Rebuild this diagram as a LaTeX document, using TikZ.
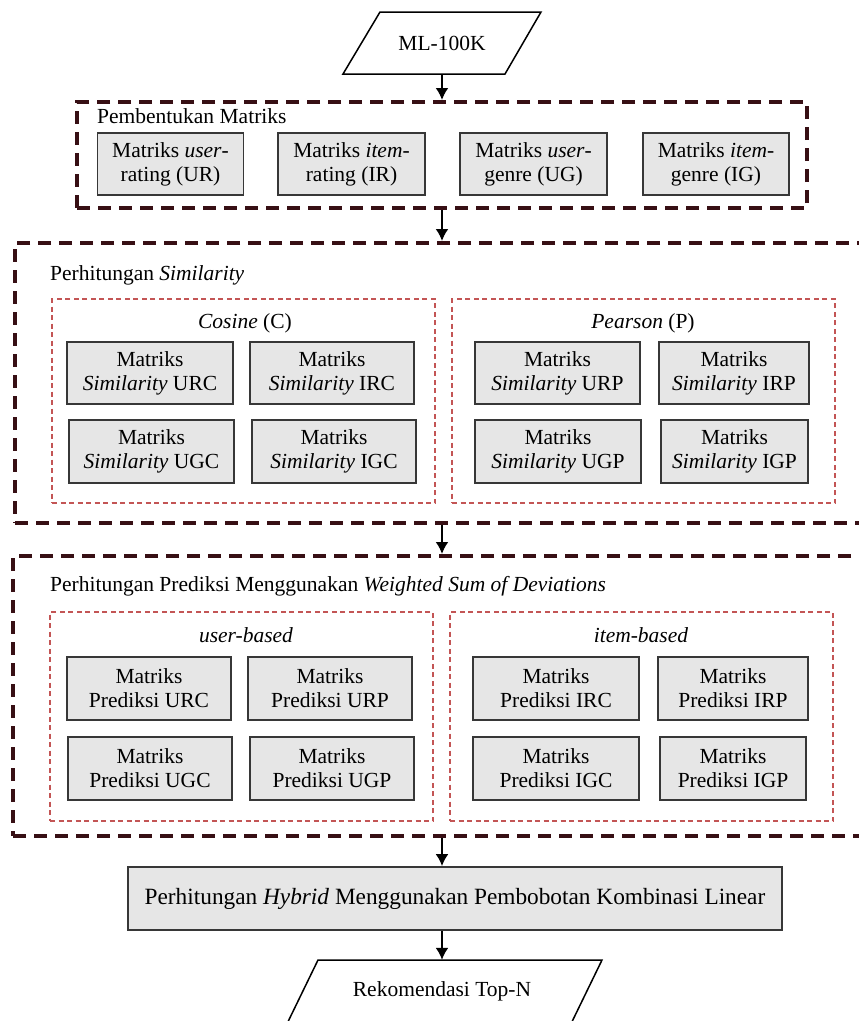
\documentclass[tikz,border=0pt]{standalone}
\usepackage{fontspec}
\setmainfont{Liberation Serif}
\usetikzlibrary{arrows.meta,calc}
\definecolor{bigdash}{RGB}{55,15,20}
\definecolor{reddot}{RGB}{195,85,85}
\definecolor{boxfill}{RGB}{230,230,230}
\definecolor{boxline}{RGB}{55,55,55}
\begin{document}
\begin{tikzpicture}[x=1pt,y=-1pt,
  every node/.style={font=\fontsize{21.5}{24}\selectfont},
  mbox/.style={draw=boxline, line width=1.8pt, fill=boxfill, align=center, inner sep=0pt, minimum height=62},
  bigbox/.style={draw=bigdash, line width=4pt, dash pattern=on 13pt off 8pt, inner sep=0pt},
  subbox/.style={draw=reddot, line width=1.3pt, dash pattern=on 5pt off 3.5pt, inner sep=0pt},
  flow/.style={draw=black, line width=2pt, -{Latex[length=12pt,width=13pt]}},
  title/.style={anchor=base west, inner sep=0pt},
  subtitle/.style={anchor=base, inner sep=0pt},
  para/.style={draw=black, line width=1.5pt, line join=miter},
]
\useasboundingbox (0,0) rectangle (859,1021);
\fill[white] (0,0) rectangle (859,1021);

% input
\draw[para] (380,12) -- (541,12) -- (505,74) -- (343,74) -- cycle;
\node[inner sep=0pt, minimum height=62] (ml) at (442,43) {ML-100K};

% stage 1
\node[bigbox, minimum width=730, minimum height=106] (b1) at (442,155) {};
\node[title] (t1) at (97,123) {Pembentukan Matriks};
\node[mbox, minimum width=146] (ur) at (170.5,164) {Matriks \textit{user}-\\rating (UR)};
\node[mbox, minimum width=147] (ir) at (351.5,164) {Matriks \textit{item}-\\rating (IR)};
\node[mbox, minimum width=147] (ug) at (533.5,164) {Matriks \textit{user}-\\genre (UG)};
\node[mbox, minimum width=146] (ig) at (716,164) {Matriks \textit{item}-\\genre (IG)};

% stage 2
\node[bigbox, minimum width=865, minimum height=280] (b2) at (447.5,383) {};
\node[title] (t2) at (50,280) {Perhitungan \textit{Similarity}};
\node[subbox, minimum width=383, minimum height=204] (cos) at (243.5,401) {};
\node[subbox, minimum width=383, minimum height=204] (pea) at (643.5,401) {};
\node[subtitle] (tc) at (245,328) {\textit{Cosine} (C)};
\node[subtitle] (tp) at (643,328) {\textit{Pearson} (P)};
\node[mbox, minimum width=166] (surc) at (150,373) {Matriks\\\textit{Similarity} URC};
\node[mbox, minimum width=164] (sirc) at (332,373) {Matriks\\\textit{Similarity} IRC};
\node[mbox, minimum width=165, minimum height=63] (sugc) at (151.5,451.5) {Matriks\\\textit{Similarity} UGC};
\node[mbox, minimum width=164, minimum height=63] (sigc) at (334,451.5) {Matriks\\\textit{Similarity} IGC};
\node[mbox, minimum width=165] (surp) at (557.5,373) {Matriks\\\textit{Similarity} URP};
\node[mbox, minimum width=150] (sirp) at (734,373) {Matriks\\\textit{Similarity} IRP};
\node[mbox, minimum width=166, minimum height=63] (sugp) at (558,451.5) {Matriks\\\textit{Similarity} UGP};
\node[mbox, minimum width=147, minimum height=63] (sigp) at (734.5,451.5) {Matriks\\\textit{Similarity} IGP};

% stage 3
\node[bigbox, minimum width=867, minimum height=280] (b3) at (446.5,696) {};
\node[title] (t3) at (50,591) {Perhitungan Prediksi Menggunakan \textit{Weighted Sum of Deviations}};
\node[subbox, minimum width=383, minimum height=209] (ub) at (241.5,716.5) {};
\node[subbox, minimum width=383, minimum height=209] (ib) at (641.5,716.5) {};
\node[subtitle] (tu) at (246,642) {\textit{user-based}};
\node[subtitle] (ti) at (641,642) {\textit{item-based}};
\node[mbox, minimum width=164, minimum height=63] (purc) at (149,688.5) {Matriks\\Prediksi URC};
\node[mbox, minimum width=164, minimum height=63] (purp) at (330,688.5) {Matriks\\Prediksi URP};
\node[mbox, minimum width=164, minimum height=63] (pugc) at (150,768.5) {Matriks\\Prediksi UGC};
\node[mbox, minimum width=164, minimum height=63] (pugp) at (332,768.5) {Matriks\\Prediksi UGP};
\node[mbox, minimum width=166, minimum height=63] (pirc) at (556,688.5) {Matriks\\Prediksi IRC};
\node[mbox, minimum width=150, minimum height=63] (pirp) at (733,688.5) {Matriks\\Prediksi IRP};
\node[mbox, minimum width=166, minimum height=63] (pigc) at (556,768.5) {Matriks\\Prediksi IGC};
\node[mbox, minimum width=146, minimum height=63] (pigp) at (733,768.5) {Matriks\\Prediksi IGP};

% hybrid
\node[mbox, minimum width=654, minimum height=63, font=\fontsize{23.3}{26}\selectfont] (hyb) at (455,898.5) {Perhitungan \textit{Hybrid} Menggunakan Pembobotan Kombinasi Linear};

% output
\draw[para] (318,960) -- (602,960) -- (567,1032) -- (283,1032) -- cycle;
\node[inner sep=0pt, minimum height=62] (rek) at (442,991) {Rekomendasi Top-N};

% connectors
\draw[flow] (ml.south) -- (ml.south |- b1.north);
\draw[flow] (b1.south -| ml.south) -- (b2.north -| ml.south);
\draw[flow] (b2.south -| ml.south) -- (b3.north -| ml.south);
\draw[flow] (b3.south -| ml.south) -- (hyb.north -| ml.south);
\draw[flow] (hyb.south -| ml.south) -- (rek.north);
\end{tikzpicture}
\end{document}
